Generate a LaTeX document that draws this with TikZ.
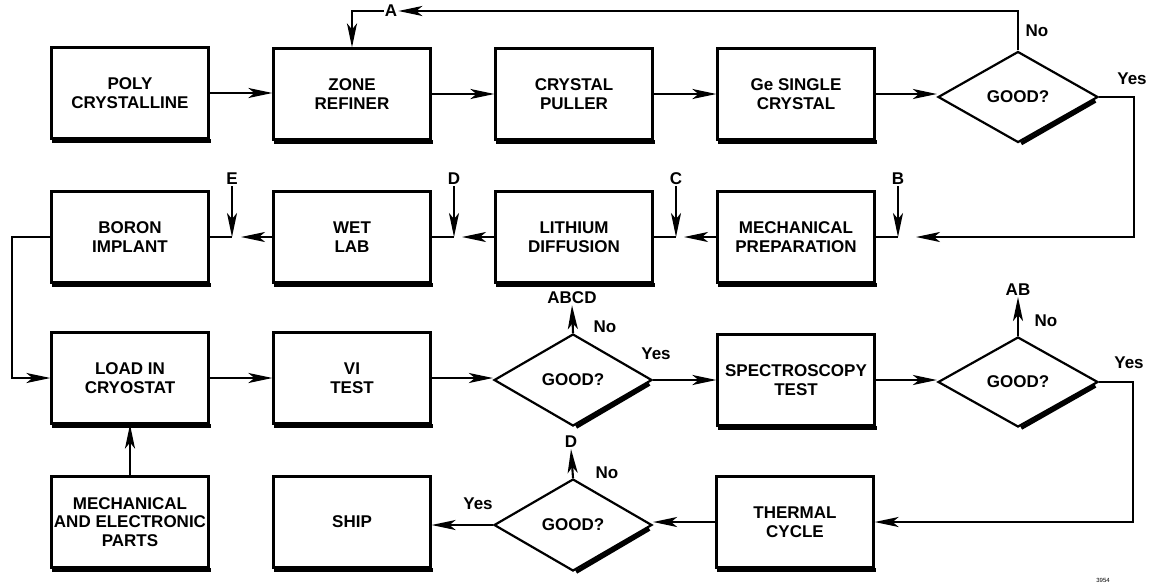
\documentclass[tikz,border=0pt]{standalone}
\usepackage{fontspec}
\setmainfont{Liberation Sans}
\usetikzlibrary{shapes.geometric,arrows.meta}
\begin{document}
\begin{tikzpicture}[x=1pt,y=-1pt,
  every node/.style={font=\fontsize{17}{18.5}\selectfont\bfseries},
  box/.style={draw,line width=2.2pt,minimum width=157pt,minimum height=91pt,align=center,inner sep=0pt},
  dia/.style={draw,diamond,line width=2.2pt,minimum width=160pt,minimum height=91pt,inner sep=0pt},
  lbl/.style={inner sep=1pt},
  ln/.style={line width=2.1pt},
  arr/.style={line width=2.1pt,-{Stealth[length=24pt,width=10pt,inset=6pt]}},
  shadowline/.style={line width=3.8pt},
]
\useasboundingbox (0,0) rectangle (1149,587);

% row 1
\node[box] (poly) at (130,93) {POLY\\CRYSTALLINE};
\node[box] (zone) at (352,94) {ZONE\\REFINER};
\node[box] (pull) at (574,94) {CRYSTAL\\PULLER};
\node[box] (ge)   at (796,94) {Ge SINGLE\\CRYSTAL};
\node[dia] (g1)   at (1018,97) {GOOD?};

% row 2
\node[box] (boron) at (130,237) {BORON\\IMPLANT};
\node[box] (wet)   at (352,237) {WET\\LAB};
\node[box] (lith)  at (574,237) {LITHIUM\\DIFFUSION};
\node[box] (mech)  at (796,237) {MECHANICAL\\PREPARATION};

% row 3
\node[box] (load) at (130,378) {LOAD IN\\CRYOSTAT};
\node[box] (vi)   at (352,378) {VI\\TEST};
\node[dia,minimum width=158pt,minimum height=92pt] (g2) at (573,380) {GOOD?};
\node[box] (spec) at (796,380) {SPECTROSCOPY\\TEST};
\node[dia,minimum width=160pt,minimum height=90pt] (g3) at (1018,382) {GOOD?};

% row 4
\node[box] (mecel)   at (130,522) {MECHANICAL\\AND ELECTRONIC\\PARTS};
\node[box] (ship)    at (352,522) {SHIP};
\node[dia,minimum width=158pt,minimum height=92pt] (g4) at (573,525) {GOOD?};
\node[box] (thermal) at (795,522) {THERMAL\\CYCLE};

% shadows
\foreach \n in {poly,zone,pull,ge,boron,wet,lith,mech,load,vi,spec,mecel,ship,thermal}
  \draw[shadowline] ([shift={(1.5,1.2)}]\n.south west) -- ([shift={(1.5,1.2)}]\n.south east);
\foreach \n in {g1,g2,g3,g4}
  \draw[shadowline,shorten <=5pt,shorten >=3pt] ([shift={(0.6,1.4)}]\n.east) -- ([shift={(0.6,1.4)}]\n.south);

% labels
\node[lbl] (A) at (391,11) {A};
\node[lbl] (No1) at (1037,31) {No};
\node[lbl] (Yes1) at (1132,79) {Yes};
\node[lbl] (E) at (232,179) {E};
\node[lbl] (D) at (454,179) {D};
\node[lbl] (C) at (676,179) {C};
\node[lbl] (B) at (898,179) {B};
\node[lbl] (ABCD) at (572,298) {ABCD};
\node[lbl] (No2) at (605,327) {No};
\node[lbl] (Yes2) at (656,354) {Yes};
\node[lbl] (AB) at (1018,290) {AB};
\node[lbl] (No3) at (1046,321) {No};
\node[lbl] (Yes3) at (1129,363) {Yes};
\node[lbl] (D2) at (571,442) {D};
\node[lbl] (No4) at (607,473) {No};
\node[lbl] (Yes4) at (478,504) {Yes};
\node[lbl,font=\fontsize{6}{7}\selectfont] (num) at (1103,580) {3954};

% coordinates
\coordinate (tA) at (1018,11);
\coordinate (rB) at (1134,97);
\coordinate (tB) at (916,237);
\coordinate (cB) at (898,237);
\coordinate (cC) at (676,237);
\coordinate (tC) at (684,237);
\coordinate (cD) at (454,237);
\coordinate (tD) at (462,237);
\coordinate (cE) at (232,237);
\coordinate (tE) at (241,237);
\coordinate (lL) at (12,237);
\coordinate (r3) at (1133,382);

% row 1 connectors
\draw[arr] (poly.east) -- (poly.east -| zone.west);
\draw[arr] (zone.east) -- (pull.west);
\draw[arr] (pull.east) -- (ge.west);
\draw[arr] (ge.east) -- (ge.east -| g1.west);
\draw[arr] (g1.north) -- (tA) -- (A.east);
\draw[arr] (A.west) -| (zone.north);
\draw[arr] (g1.east) -- (rB) |- (tB);

% row 2 connectors
\draw[ln] (mech.east) -- (cB);
\draw[arr] (B.south) -- (cB);
\draw[arr] (mech.west) -- (tC);
\draw[ln] (lith.east) -- (cC);
\draw[arr] (C.south) -- (cC);
\draw[arr] (lith.west) -- (tD);
\draw[ln] (wet.east) -- (cD);
\draw[arr] (D.south) -- (cD);
\draw[arr] (wet.west) -- (tE);
\draw[ln] (boron.east) -- (cE);
\draw[arr] (E.south) -- (cE);
\draw[arr] (boron.west) -- (lL) |- (load.west);

% row 3 connectors
\draw[arr] (load.east) -- (vi.west);
\draw[arr] (vi.east) -- (vi.east -| g2.west);
\draw[arr] (g2.east) -- (spec.west);
\draw[arr] (spec.east) -- (spec.east -| g3.west);
\draw[arr] (g2.north) -- (ABCD.south);
\draw[arr] (g3.north) -- (AB.south);
\draw[arr] (g3.east) -- (r3) |- (thermal.east);

% row 4 connectors
\draw[arr] (mecel.north) -- (load.south);
\draw[arr] (thermal.west) -- (thermal.west -| g4.east);
\draw[arr] (g4.west) -- (g4.west -| ship.east);
\draw[arr] (g4.north) -- (D2.south);
\end{tikzpicture}
\end{document}
